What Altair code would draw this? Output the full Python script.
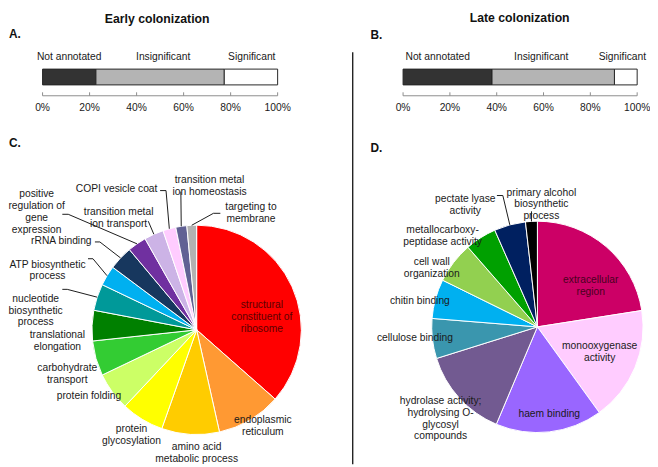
import math
import altair as alt
import pandas as pd

# ---------------- data ----------------
bar_categories = ["Not annotated", "Insignificant", "Significant"]
early_bar_pct = [22.7, 54.6, 22.7]
late_bar_pct = [38.0, 52.3, 9.7]
axis_ticks = [0, 20, 40, 60, 80, 100]
axis_tick_labels = ["0%", "20%", "40%", "60%", "80%", "100%"]

early_terms = [
    "structural constituent of ribosome",
    "endoplasmic reticulum",
    "amino acid metabolic process",
    "protein glycosylation",
    "protein folding",
    "carbohydrate transport",
    "translational elongation",
    "nucleotide biosynthetic process",
    "ATP biosynthetic process",
    "rRNA binding",
    "positive regulation of gene expression",
    "transition metal ion transport",
    "COPI vesicle coat",
    "transition metal ion homeostasis",
    "targeting to membrane",
]
early_pct = [36.5, 10.0, 8.9, 6.6, 5.9, 5.4, 4.7, 4.1, 3.1, 3.7, 2.9, 3.0, 2.0, 1.7, 1.5]

late_terms = [
    "extracellular region",
    "monooxygenase activity",
    "haem binding",
    "hydrolase activity; hydrolysing O-glycosyl compounds",
    "cellulose binding",
    "chitin binding",
    "cell wall organization",
    "metallocarboxypeptidase activity",
    "pectate lyase activity",
    "primary alcohol biosynthetic process",
]
late_pct = [22.5, 17.5, 16.3, 13.8, 6.1, 6.0, 6.3, 4.8, 4.8, 1.8]

# displayed (wrapped) label text
early_label_text = [
    "structural\nconstituent of\nribosome", "endoplasmic\nreticulum",
    "amino acid\nmetabolic process", "protein\nglycosylation", "protein folding",
    "carbohydrate\ntransport", "translational\nelongation",
    "nucleotide\nbiosynthetic\nprocess", "ATP biosynthetic\nprocess", "rRNA binding",
    "positive\nregulation of\ngene\nexpression", "transition metal\nion transport",
    "COPI vesicle coat", "transition metal\nion homeostasis", "targeting to\nmembrane",
]
late_label_text = [
    "extracellular\nregion", "monooxygenase\nactivity", "haem binding",
    "hydrolase activity;\nhydrolysing O-\nglycosyl\ncompounds", "cellulose binding",
    "chitin binding", "cell wall\norganization", "metallocarboxy-\npeptidase activity",
    "pectate lyase\nactivity", "primary alcohol\nbiosynthetic\nprocess",
]

# ---------------- styles ----------------
bar_colors = ["#333333", "#B4B4B4", "#FFFFFF"]
early_colors = ["#FF0000", "#FF9933", "#FFCC00", "#FFFF00", "#CCFF66", "#33CC33",
                "#008000", "#009999", "#00B0F0", "#17375E", "#7030A0", "#CCB3E6",
                "#FFCCFF", "#616194", "#B2B2B2"]
late_colors = ["#CC0066", "#FFCCFF", "#9966FF", "#725A91", "#3A96AE", "#00B0F0",
               "#92D050", "#00A000", "#002060", "#000000"]
early_label_colors = ["#5c0000"] + ["#1a1a1a"] * 14
late_label_colors = ["#4a0020"] + ["#1a1a1a"] * 9
FONT = "Liberation Sans"
TXT = "#1a1a1a"
FS = 10.4

# ---------------- layout (page pixels) ----------------
M = 8            # page margin
W, H = 650, 459  # drawing area


def p(v):
    return v - M


early_label_xy = [(265, 306), (266, 422), (199, 449.5), (133, 431.5), (90, 398),
                  (68, 370), (58, 336), (36, 299.5), (48, 265), (62, 241),
                  (37, 194), (120, 212), (118, 188), (212, 179), (254, 206.5)]
late_label_xy = [(598, 280.5), (607, 347.5), (556, 416), (446, 403), (420, 339),
                 (425, 302), (437, 262.5), (448, 230), (471, 199), (548, 192)]

early_leaders = {
    10: [(63, 214), (69, 214)],
    9: [(96, 242), (101, 242)],
    8: [(89, 259), (94, 259)],
    7: [(63, 290), (68, 290)],
    11: [(150, 221)],
    12: [(162, 190), (168, 190)],
    13: [(183, 191)],
    14: [(223, 213), (216, 213)],
}
late_leaders = {
    9: [(538, 211)],
    8: [(503, 195), (509, 195)],
}

PIE_E = (199, 331, 106)
PIE_L = (544, 328, 107)


# ---------------- bar panels ----------------
def bar_panel(pcts, x0, x1, label_pct):
    starts = [sum(pcts[:i]) for i in range(len(pcts))]
    df = pd.DataFrame({
        "cat": bar_categories,
        "start": starts,
        "end": [s + v for s, v in zip(starts, pcts)],
        "label_pos": label_pct,
    })
    xs = alt.Scale(domain=[0, 100], range=[p(x0), p(x1)], nice=False, zero=False)
    bars = alt.Chart(df).mark_bar(stroke="#262626", strokeWidth=1).encode(
        x=alt.X("start:Q", scale=xs, axis=None),
        x2="end:Q",
        y=alt.value(p(67)), y2=alt.value(p(83)),
        color=alt.Color("cat:N", scale=alt.Scale(domain=bar_categories, range=bar_colors),
                        legend=None),
    )
    labels = alt.Chart(df).mark_text(font=FONT, fontSize=FS, color=TXT,
                                     baseline="middle", align="center").encode(
        x=alt.X("label_pos:Q", scale=xs, axis=None),
        y=alt.value(p(55)),
        text="cat:N",
    )
    dom = alt.Chart(pd.DataFrame({"lo": [0], "hi": [100]})).mark_rule(
        color="#8c8c8c", strokeWidth=1).encode(
        x=alt.X("lo:Q", scale=xs, axis=None), x2="hi:Q", y=alt.value(p(94)))
    tick_df = pd.DataFrame({"v": axis_ticks, "lab": axis_tick_labels})
    ticks = alt.Chart(tick_df).mark_rule(color="#8c8c8c", strokeWidth=1).encode(
        x=alt.X("v:Q", scale=xs, axis=None), y=alt.value(p(90.5)), y2=alt.value(p(94)))
    tick_labels = alt.Chart(tick_df).mark_text(font=FONT, fontSize=FS, color=TXT,
                                               baseline="middle", align="center").encode(
        x=alt.X("v:Q", scale=xs, axis=None), y=alt.value(p(106)), text="lab:N")
    return alt.layer(bars, labels, dom, ticks, tick_labels)


early_panel = bar_panel(early_bar_pct, 43, 281, [11.3, 51.3, 89.0])
late_panel = bar_panel(late_bar_pct, 408, 645, [14.8, 59.0, 93.7])


# ---------------- pies ----------------
def pie(terms, pcts, colors, geo):
    cxp, cyp, r = geo
    df = pd.DataFrame({"term": terms, "value": pcts, "idx": list(range(len(terms)))})
    return alt.Chart(df).mark_arc(outerRadius=r, stroke="white", strokeWidth=1).encode(
        theta=alt.Theta("value:Q", stack=True),
        order=alt.Order("idx:Q"),
        color=alt.Color("term:N", scale=alt.Scale(domain=terms, range=colors), legend=None),
        x=alt.value(p(cxp)), y=alt.value(p(cyp)),
    )


def slice_edge(pcts, i, geo):
    cxp, cyp, r = geo
    a = (sum(pcts[:i]) + pcts[i] / 2) / sum(pcts) * 2 * math.pi
    return cxp + r * math.sin(a), cyp - r * math.cos(a)


def leader_rows(pcts, leaders, geo, tag):
    rows = []
    for i, pts in leaders.items():
        allpts = list(pts) + [slice_edge(pcts, i, geo)]
        for k, (x, y) in enumerate(allpts):
            rows.append({"id": f"{tag}{i}", "k": k, "x": p(x), "y": p(y)})
    return rows


lead_df = pd.DataFrame(leader_rows(early_pct, early_leaders, PIE_E, "e")
                       + leader_rows(late_pct, late_leaders, PIE_L, "l"))
leaders = alt.Chart(lead_df).mark_line(color="#1a1a1a", strokeWidth=1).encode(
    x=alt.X("x:Q", scale=None), y=alt.Y("y:Q", scale=None),
    detail="id:N", order="k:Q")


def label_layer(texts, xy, colors):
    df = pd.DataFrame({"t": texts, "x": [p(a) for a, _ in xy], "y": [p(b) for _, b in xy],
                       "c": colors})
    return alt.Chart(df).mark_text(font=FONT, fontSize=FS, lineBreak="\n", lineHeight=12,
                                   align="center", baseline="middle").encode(
        x=alt.X("x:Q", scale=None), y=alt.Y("y:Q", scale=None), text="t:N",
        color=alt.Color("c:N", scale=None))


# ---------------- titles, letters, divider ----------------
titles_df = pd.DataFrame({"t": ["Early colonization", "Late colonization"],
                          "x": [p(159), p(526)], "y": [p(16), p(15)]})
titles = alt.Chart(titles_df).mark_text(font=FONT, fontSize=12.4, fontWeight="bold",
                                        color="#111111", align="center",
                                        baseline="middle").encode(
    x=alt.X("x:Q", scale=None), y=alt.Y("y:Q", scale=None), text="t:N")

letters_df = pd.DataFrame({"t": ["A.", "B.", "C.", "D."],
                           "x": [p(9), p(375), p(9), p(375)],
                           "y": [p(32), p(33), p(142), p(147)]})
letters = alt.Chart(letters_df).mark_text(font=FONT, fontSize=12, fontWeight="bold",
                                          color="#111111", align="left",
                                          baseline="middle").encode(
    x=alt.X("x:Q", scale=None), y=alt.Y("y:Q", scale=None), text="t:N")

divider = alt.Chart(pd.DataFrame({"a": [0]})).mark_rule(color="#222222",
                                                         strokeWidth=1.4).encode(
    x=alt.value(p(357)), y=alt.value(p(50)), y2=alt.value(H))

chart = alt.layer(
    divider, titles, letters,
    early_panel, late_panel,
    pie(early_terms, early_pct, early_colors, PIE_E),
    pie(late_terms, late_pct, late_colors, PIE_L),
    leaders,
    label_layer(early_label_text, early_label_xy, early_label_colors),
    label_layer(late_label_text, late_label_xy, late_label_colors),
).resolve_scale(
    x="independent", color="independent", theta="independent"
).properties(
    width=W, height=H, padding=0, autosize=alt.AutoSizeParams(type="none"),
    background="white",
).configure_view(stroke=None)

chart.save("out.html", embed_options={"renderer": "svg", "actions": False})
